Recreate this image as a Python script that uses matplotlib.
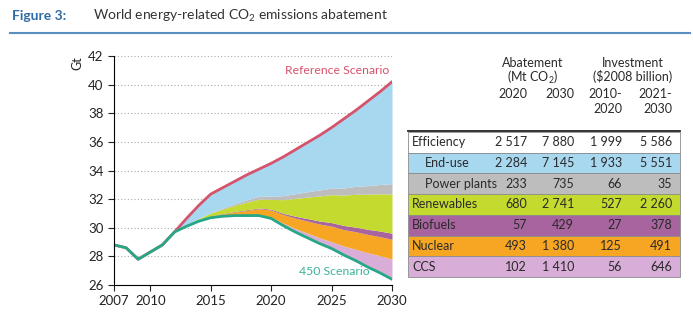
import numpy as np
import matplotlib.pyplot as plt
from matplotlib.patches import Rectangle

plt.rcParams['font.family'] = ['Lato', 'DejaVu Sans']
plt.rcParams['mathtext.fontset'] = 'custom'
plt.rcParams['mathtext.rm'] = 'Lato'

# Chart data (Gt CO2)
years = np.arange(2007, 2031)
reference = [28.8, 28.6, 27.8, 28.3, 28.8, 29.7, 30.65, 31.55, 32.35, 32.8, 33.25, 33.7,
             34.1, 34.5, 34.95, 35.45, 35.95, 36.45, 37.0, 37.6, 38.2, 38.85, 39.5, 40.2]
scen450 = [28.8, 28.6, 27.8, 28.3, 28.8, 29.7, 30.1, 30.45, 30.7, 30.8, 30.85, 30.85,
           30.85, 30.65, 30.15, 29.7, 29.3, 28.9, 28.55, 28.1, 27.7, 27.25, 26.85, 26.4]

# wedges stacked upward from the 450 line (end-use fills the rest)
ccs = [0, 0, 0, 0, 0, 0, 0, 0, 0, 0, 0, 0.03,
       0.06, 0.10, 0.17, 0.25, 0.33, 0.40, 0.48, 0.62, 0.80, 1.0, 1.2, 1.41]
nuclear = [0, 0, 0, 0, 0, 0, 0.02, 0.05, 0.10, 0.17, 0.25, 0.33,
           0.42, 0.49, 0.60, 0.72, 0.84, 0.96, 1.08, 1.15, 1.22, 1.28, 1.33, 1.38]
biofuels = [0, 0, 0, 0, 0, 0, 0.01, 0.01, 0.02, 0.03, 0.04, 0.05,
            0.05, 0.06, 0.09, 0.13, 0.17, 0.21, 0.25, 0.29, 0.32, 0.36, 0.39, 0.43]
renewables = [0, 0, 0, 0, 0, 0, 0.05, 0.12, 0.20, 0.30, 0.42, 0.53,
              0.62, 0.68, 0.95, 1.25, 1.50, 1.75, 1.95, 2.12, 2.30, 2.45, 2.60, 2.74]
power_plants = [0, 0, 0, 0, 0, 0, 0.01, 0.02, 0.04, 0.08, 0.12, 0.16,
                0.20, 0.23, 0.28, 0.33, 0.38, 0.42, 0.46, 0.50, 0.55, 0.60, 0.65, 0.72]

# Table data
row_names = ["Efficiency", "End-use", "Power plants", "Renewables", "Biofuels", "Nuclear", "CCS"]
abate_2020 = ["2 517", "2 284", "233", "680", "57", "493", "102"]
abate_2030 = ["7 880", "7 145", "735", "2 741", "429", "1 380", "1 410"]
invest_2020 = ["1 999", "1 933", "66", "527", "27", "125", "56"]
invest_2030 = ["5 586", "5 551", "35", "2 260", "378", "491", "646"]

c_enduse = '#a8d8f0'
c_pp = '#bdbdbd'
c_ren = '#c4da2e'
c_bio = '#a8649e'
c_nuc = '#f7a623'
c_ccs = '#d8aed8'
row_colors = ['white', c_enduse, c_pp, c_ren, c_bio, c_nuc, c_ccs]

W, H = 693, 322
fig = plt.figure(figsize=(W / 100, H / 100), dpi=100)


def fx(x):
    return x / W


def fy(y):
    return 1 - y / H


ax = fig.add_axes([fx(114), fy(285), fx(392) - fx(114), fy(56) - fy(285)])

base = np.array(scen450)
layers = [(ccs, c_ccs), (nuclear, c_nuc), (biofuels, c_bio),
          (renewables, c_ren), (power_plants, c_pp)]
for vals, col in layers:
    top = base + np.array(vals)
    ax.fill_between(years, base, top, color=col, lw=0)
    base = top
ax.fill_between(years, base, reference, color=c_enduse, lw=0)

ax.plot(years, reference, color='#d6536c', lw=2)
ax.plot(years, scen450, color='#26a887', lw=2)

ax.set_xlim(2007, 2030)
ax.set_ylim(26, 42)
ax.set_yticks(range(26, 43, 2))
ax.set_xticks([2007, 2010, 2015, 2020, 2025, 2030])
for yv in range(28, 43, 2):
    ax.axhline(yv, color='#aaaaaa', lw=0.8, ls=(0, (1, 2)), zorder=0)
for s in ['top', 'right']:
    ax.spines[s].set_visible(False)
ax.tick_params(labelsize=9.5, colors='#222222', length=4)
ax.set_axisbelow(True)

ax.text(2029.8, 41.0, "Reference Scenario", color='#d6536c', fontsize=8.8,
        ha='right', va='center')
ax.text(2022.3, 26.95, "450 Scenario", color='#3db39b', fontsize=8.8,
        ha='left', va='center')
fig.text(fx(77), fy(63), "Gt", rotation=90, fontsize=9, color='#222222',
         ha='center', va='center')

# Title
fig.text(fx(12), fy(16), "Figure 3:", color='#2d6aa6', fontsize=10,
         fontweight='bold', va='center')
fig.text(fx(93), fy(16), "World energy-related CO$_2$ emissions abatement",
         color='#333333', fontsize=10, va='center')
fig.add_artist(plt.Line2D([fx(10), fx(690)], [fy(33), fy(33)],
                          color='#5b8ec2', lw=1.5))

# Table
tc = '#2a2a2a'
fs = 9
col_right = [527, 574, 622, 672]
fig.text(fx(533), fy(63), "Abatement", fontsize=fs, color=tc, ha='center', va='center')
fig.text(fx(533), fy(77), "(Mt CO$_2$)", fontsize=fs, color=tc, ha='center', va='center')
fig.text(fx(633), fy(63), "Investment", fontsize=fs, color=tc, ha='center', va='center')
fig.text(fx(633), fy(77), "($2008 billion)", fontsize=fs, color=tc, ha='center', va='center')
heads = [("2020", ""), ("2030", ""), ("2010-", "2020"), ("2021-", "2030")]
for xr, (h1, h2) in zip(col_right, heads):
    fig.text(fx(xr), fy(94), h1, fontsize=fs, color=tc, ha='right', va='center')
    if h2:
        fig.text(fx(xr), fy(109), h2, fontsize=fs, color=tc, ha='right', va='center')
fig.add_artist(plt.Line2D([fx(408), fx(680)], [fy(130.5), fy(130.5)],
                          color='#222222', lw=1.3))

row_top = 132
row_h = 20.7
for i, name in enumerate(row_names):
    y0 = row_top + i * row_h
    fig.add_artist(Rectangle((fx(408), fy(y0 + row_h)), fx(680) - fx(408),
                             row_h / H, transform=fig.transFigure,
                             facecolor=row_colors[i], edgecolor='#8c8c8c', lw=0.6))
    yc = fy(y0 + row_h / 2)
    xl = 425 if name in ("End-use", "Power plants") else 412
    fig.text(fx(xl), yc, name, fontsize=fs, color=tc, ha='left', va='center')
    vals = [abate_2020[i], abate_2030[i], invest_2020[i], invest_2030[i]]
    for xr, v in zip(col_right, vals):
        fig.text(fx(xr), yc, v, fontsize=fs, color=tc, ha='right', va='center')

fig.savefig('out.png', dpi=100)
